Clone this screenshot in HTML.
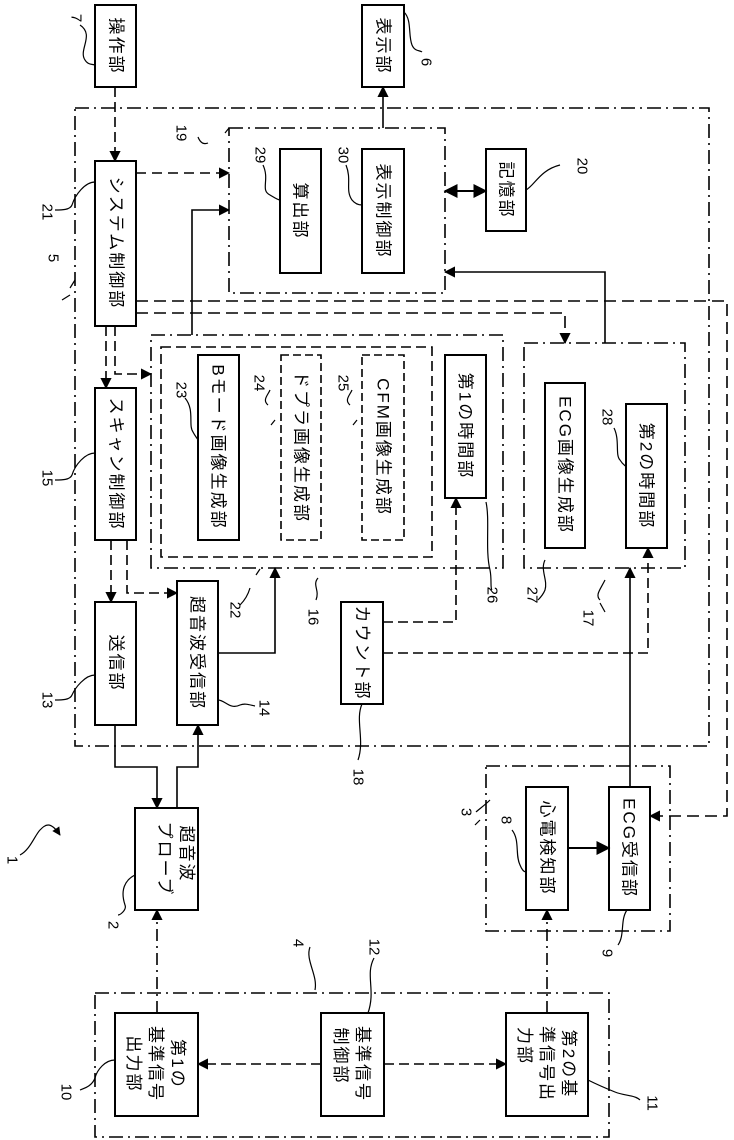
<!DOCTYPE html>
<html><head><meta charset="utf-8"><style>
html,body{margin:0;padding:0;background:#fff;}
svg{display:block;}
text{font-family:"Liberation Sans","Noto Sans CJK JP",sans-serif;fill:#000;}
.t{font-size:17px;letter-spacing:2px;}
.n{font-size:15px;}
</style></head><body>
<svg width="734" height="1140" viewBox="0 0 734 1140" xmlns="http://www.w3.org/2000/svg">
<defs>
<marker id="a" viewBox="0 0 10 10" refX="9" refY="5" markerWidth="7" markerHeight="7" orient="auto-start-reverse"><path d="M0,0 L10,5 L0,10 z" fill="#000"/></marker>
</defs>
<g fill="none" stroke="#000" stroke-width="1.6">
<!-- dash-dot groups -->
<g stroke-dasharray="14,5,2,5">
<rect x="75" y="108" width="634" height="638"/>
<rect x="229" y="128" width="216" height="165"/>
<rect x="151" y="335" width="352" height="233"/>
<rect x="524" y="343" width="161" height="225"/>
<rect x="486" y="766" width="184" height="165"/>
<rect x="95" y="993" width="514" height="144"/>
</g>
<rect x="161" y="347" width="271" height="210" stroke-dasharray="10,5"/>
<!-- solid boxes -->
<rect x="95" y="5" width="41" height="82" stroke-width="2"/>
<rect x="362" y="5" width="42" height="82" stroke-width="2"/>
<rect x="280" y="149" width="41" height="124" stroke-width="2"/>
<rect x="362" y="149" width="42" height="124" stroke-width="2"/>
<rect x="486" y="149" width="40" height="82" stroke-width="2"/>
<rect x="95" y="161" width="41" height="165" stroke-width="2"/>
<rect x="95" y="388" width="41" height="152" stroke-width="2"/>
<rect x="198" y="355" width="41" height="185" stroke-width="2"/>
<rect x="281" y="355" width="40" height="185" stroke-dasharray="8,4"/>
<rect x="362" y="355" width="42" height="185" stroke-dasharray="8,4"/>
<rect x="445" y="355" width="41" height="143" stroke-width="2"/>
<rect x="545" y="383" width="40" height="165" stroke-width="2"/>
<rect x="626" y="404" width="41" height="144" stroke-width="2"/>
<rect x="95" y="602" width="41" height="123" stroke-width="2"/>
<rect x="177" y="581" width="41" height="144" stroke-width="2"/>
<rect x="341" y="602" width="42" height="102" stroke-width="2"/>
<rect x="135" y="808" width="63" height="102" stroke-width="2"/>
<rect x="526" y="787" width="42" height="123" stroke-width="2"/>
<rect x="609" y="787" width="41" height="123" stroke-width="2"/>
<rect x="115" y="1013" width="83" height="103" stroke-width="2"/>
<rect x="321" y="1013" width="63" height="103" stroke-width="2"/>
<rect x="506" y="1013" width="82" height="103" stroke-width="2"/>
<!-- connectors -->
<path d="M115,87 V161" stroke-dasharray="10,5" marker-end="url(#a)"/>
<path d="M383,128 V87" marker-end="url(#a)"/>
<path d="M445,191 H486" marker-start="url(#a)" marker-end="url(#a)" stroke-width="2"/>
<path d="M136,173 H229" stroke-dasharray="10,6" marker-end="url(#a)"/>
<path d="M192,335 V210 H229" marker-end="url(#a)"/>
<path d="M605,343 V272 H445" marker-end="url(#a)"/>
<path d="M136,301 H727 V816 H650" stroke-dasharray="12,6" marker-end="url(#a)"/>
<path d="M136,313 H565 V343" stroke-dasharray="12,6" marker-end="url(#a)"/>
<path d="M106,326 V388" stroke-dasharray="10,5" marker-end="url(#a)"/>
<path d="M115,326 V374 H151" stroke-dasharray="10,5" marker-end="url(#a)"/>
<path d="M111,540 V602" stroke-dasharray="10,5" marker-end="url(#a)"/>
<path d="M127,540 V593 H177" stroke-dasharray="10,5" marker-end="url(#a)"/>
<path d="M218,653 H275 V568" marker-end="url(#a)"/>
<path d="M383,622 H456 V498" stroke-dasharray="10,5" marker-end="url(#a)"/>
<path d="M383,653 H648 V548" stroke-dasharray="10,5" marker-end="url(#a)"/>
<path d="M630,787 V568" marker-end="url(#a)"/>
<path d="M115,725 V767 H157 V808" marker-end="url(#a)"/>
<path d="M177,808 V767 H198 V725" marker-end="url(#a)"/>
<path d="M568,848 H609" marker-end="url(#a)" stroke-width="2"/>
<path d="M157,1013 V910" stroke-dasharray="12,5,2,5" marker-end="url(#a)"/>
<path d="M547,1013 V910" stroke-dasharray="12,5,2,5" marker-end="url(#a)"/>
<path d="M321,1064 H198" stroke-dasharray="10,5" marker-end="url(#a)"/>
<path d="M384,1064 H506" stroke-dasharray="10,5" marker-end="url(#a)"/>
<!-- leaders -->
<g stroke-width="1.2">
<path d="M80,25 C95,35 78,50 85,60 C88,65 92,64 95,65"/>
<path d="M404,12 C412,20 408,35 412,45 C415,52 420,50 422,52"/>
<path d="M198,137 C200,142 203,145 208,143"/>
<path d="M225,133 L229,128"/>
<path d="M263,165 C270,180 260,190 270,195 C275,198 278,200 280,200"/>
<path d="M346,165 C352,180 345,190 352,200 C356,205 360,205 362,205"/>
<path d="M526,190 C535,185 540,170 560,165"/>
<path d="M95,182 C85,182 75,195 72,205 C70,210 62,210 55,210"/>
<path d="M70,295 L62,300"/><path d="M75,280 L70,288"/>
<path d="M95,453 C85,453 75,465 72,475 C70,480 62,480 55,480"/>
<path d="M185,398 C195,410 188,425 193,432 C195,436 197,438 198,440"/>
<path d="M270,390 C268,395 262,400 268,405"/><path d="M275,420 L271,425"/>
<path d="M352,390 C350,395 344,400 350,405"/><path d="M357,420 L353,425"/>
<path d="M95,675 C85,675 75,688 72,695 C70,700 62,700 55,700"/>
<path d="M218,700 C225,700 230,710 240,705 C245,703 250,705 255,706"/>
<path d="M240,605 C245,600 248,595 250,588"/><path d="M256,575 L260,569"/>
<path d="M316,600 C320,590 312,585 318,578"/>
<path d="M486,502 C490,520 485,550 490,570 C492,580 490,588 492,590"/>
<path d="M545,560 C540,570 548,580 545,590 C543,595 540,598 538,600"/>
<path d="M614,428 C620,440 615,455 620,460 C623,465 626,466 626,467"/>
<path d="M600,600 C595,595 600,590 605,580"/><path d="M605,612 L600,603"/>
<path d="M362,704 C355,720 365,740 358,760"/>
<path d="M20,855 C30,850 35,835 40,830 C45,825 50,820 60,835" marker-end="url(#a)"/>
<path d="M135,875 C125,880 120,890 125,905 C127,910 120,915 118,915"/>
<path d="M490,800 C485,805 478,810 476,812"/><path d="M480,820 L475,825"/>
<path d="M512,830 C520,840 515,855 520,865 C522,870 524,872 526,872"/>
<path d="M627,910 C620,920 625,935 618,945"/>
<path d="M310,947 C305,960 318,975 315,990"/>
<path d="M374,958 C365,975 376,990 368,1013"/>
<path d="M115,1060 C105,1060 97,1070 95,1078 C92,1086 85,1088 80,1090"/>
<path d="M588,1080 C598,1085 610,1090 615,1092 C625,1096 635,1095 640,1100"/>
</g>
</g>
<!-- box labels (rotated) -->
<g class="t">
<text transform="translate(116,46) rotate(90)" text-anchor="middle" dominant-baseline="central">操作部</text>
<text transform="translate(383,46) rotate(90)" text-anchor="middle" dominant-baseline="central">表示部</text>
<text transform="translate(300,211) rotate(90)" text-anchor="middle" dominant-baseline="central">算出部</text>
<text transform="translate(383,211) rotate(90)" text-anchor="middle" dominant-baseline="central">表示制御部</text>
<text transform="translate(506,190) rotate(90)" text-anchor="middle" dominant-baseline="central">記憶部</text>
<text transform="translate(116,243) rotate(90)" text-anchor="middle" dominant-baseline="central">システム制御部</text>
<text transform="translate(116,464) rotate(90)" text-anchor="middle" dominant-baseline="central">スキャン制御部</text>
<text transform="translate(218,447) rotate(90)" text-anchor="middle" dominant-baseline="central">Bモード画像生成部</text>
<text transform="translate(301,447) rotate(90)" text-anchor="middle" dominant-baseline="central">ドプラ画像生成部</text>
<text transform="translate(383,447) rotate(90)" text-anchor="middle" dominant-baseline="central">CFM画像生成部</text>
<text transform="translate(465,426) rotate(90)" text-anchor="middle" dominant-baseline="central">第1の時間部</text>
<text transform="translate(565,465) rotate(90)" text-anchor="middle" dominant-baseline="central">ECG画像生成部</text>
<text transform="translate(646,476) rotate(90)" text-anchor="middle" dominant-baseline="central">第2の時間部</text>
<text transform="translate(116,663) rotate(90)" text-anchor="middle" dominant-baseline="central">送信部</text>
<text transform="translate(197,653) rotate(90)" text-anchor="middle" dominant-baseline="central">超音波受信部</text>
<text transform="translate(362,653) rotate(90)" text-anchor="middle" dominant-baseline="central">カウント部</text>
<text transform="translate(176,859) rotate(90)" text-anchor="middle" dominant-baseline="central"><tspan x="-5" y="-11">超音波</tspan><tspan x="0" y="11">プローブ</tspan></text>
<text transform="translate(547,848) rotate(90)" text-anchor="middle" dominant-baseline="central">心電検知部</text>
<text transform="translate(629,848) rotate(90)" text-anchor="middle" dominant-baseline="central">ECG受信部</text>
<text transform="translate(156,1064) rotate(90)" text-anchor="middle" dominant-baseline="central"><tspan x="0" y="-22">第1の</tspan><tspan x="0" y="0">基準信号</tspan><tspan x="0" y="22">出力部</tspan></text>
<text transform="translate(352,1064) rotate(90)" text-anchor="middle" dominant-baseline="central"><tspan x="0" y="-11">基準信号</tspan><tspan x="-8" y="11">制御部</tspan></text>
<text transform="translate(547,1064) rotate(90)" text-anchor="middle" dominant-baseline="central"><tspan x="0" y="-22">第2の基</tspan><tspan x="0" y="0">準信号出</tspan><tspan x="-18" y="22">力部</tspan></text>
</g>
<!-- number labels -->
<g class="n">
<text transform="translate(76,18) rotate(90)" text-anchor="middle" dominant-baseline="central">7</text>
<text transform="translate(426,62) rotate(90)" text-anchor="middle" dominant-baseline="central">6</text>
<text transform="translate(181,133) rotate(90)" text-anchor="middle" dominant-baseline="central">19</text>
<text transform="translate(260,155) rotate(90)" text-anchor="middle" dominant-baseline="central">29</text>
<text transform="translate(343,155) rotate(90)" text-anchor="middle" dominant-baseline="central">30</text>
<text transform="translate(582,166) rotate(90)" text-anchor="middle" dominant-baseline="central">20</text>
<text transform="translate(47,212) rotate(90)" text-anchor="middle" dominant-baseline="central">21</text>
<text transform="translate(53,258) rotate(90)" text-anchor="middle" dominant-baseline="central">5</text>
<text transform="translate(47,478) rotate(90)" text-anchor="middle" dominant-baseline="central">15</text>
<text transform="translate(181,390) rotate(90)" text-anchor="middle" dominant-baseline="central">23</text>
<text transform="translate(259,383) rotate(90)" text-anchor="middle" dominant-baseline="central">24</text>
<text transform="translate(343,383) rotate(90)" text-anchor="middle" dominant-baseline="central">25</text>
<text transform="translate(47,700) rotate(90)" text-anchor="middle" dominant-baseline="central">13</text>
<text transform="translate(264,708) rotate(90)" text-anchor="middle" dominant-baseline="central">14</text>
<text transform="translate(235,610) rotate(90)" text-anchor="middle" dominant-baseline="central">22</text>
<text transform="translate(313,617) rotate(90)" text-anchor="middle" dominant-baseline="central">16</text>
<text transform="translate(492,595) rotate(90)" text-anchor="middle" dominant-baseline="central">26</text>
<text transform="translate(532,595) rotate(90)" text-anchor="middle" dominant-baseline="central">27</text>
<text transform="translate(588,618) rotate(90)" text-anchor="middle" dominant-baseline="central">17</text>
<text transform="translate(607,417) rotate(90)" text-anchor="middle" dominant-baseline="central">28</text>
<text transform="translate(358,777) rotate(90)" text-anchor="middle" dominant-baseline="central">18</text>
<text transform="translate(12,860) rotate(90)" text-anchor="middle" dominant-baseline="central">1</text>
<text transform="translate(113,925) rotate(90)" text-anchor="middle" dominant-baseline="central">2</text>
<text transform="translate(466,812) rotate(90)" text-anchor="middle" dominant-baseline="central">3</text>
<text transform="translate(506,820) rotate(90)" text-anchor="middle" dominant-baseline="central">8</text>
<text transform="translate(607,953) rotate(90)" text-anchor="middle" dominant-baseline="central">9</text>
<text transform="translate(298,943) rotate(90)" text-anchor="middle" dominant-baseline="central">4</text>
<text transform="translate(374,947) rotate(90)" text-anchor="middle" dominant-baseline="central">12</text>
<text transform="translate(66,1092) rotate(90)" text-anchor="middle" dominant-baseline="central">10</text>
<text transform="translate(652,1103) rotate(90)" text-anchor="middle" dominant-baseline="central">11</text>
</g>
</svg>
</body></html>
